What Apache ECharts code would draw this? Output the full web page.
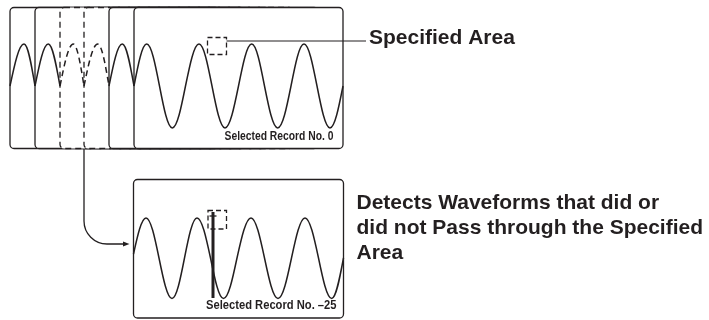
<!DOCTYPE html>
<html lang="en">
<head>
<meta charset="UTF-8">
<title>Specified Area</title>
<script src="https://cdn.jsdelivr.net/npm/echarts@6/dist/echarts.min.js"></script>
<style>
  html, body { margin: 0; padding: 0; background: #fff; }
  #chart { width: 709px; height: 320px; }
</style>
</head>
<body>
<div id="chart"></div>
<script>
// everything is in picture units: x 0..709, y 0..320 (y grows downwards)
var ink = '#231f20';

// record frames, back to front; the last one is the lower "selected" frame
var frameX0 = [10, 35, 60, 84, 109, 134, 133.5];
var frameX1 = [219, 244, 269, 293, 318, 343, 343.5];
var frameY0 = [7.5, 7.5, 7.5, 7.5, 7.5, 7.5, 179.5];
var frameY1 = [148.5, 148.5, 148.5, 148.5, 148.5, 148.5, 318];
var frameDash = [0, 0, 1, 1, 0, 0, 0];

// visible arch of each stacked record (peak position)
var archPeakX = [24, 48.3, 73.3, 97.7, 122.3];
var archMidY = 86, archPeakY = 44;

// waveform key points: crossing, extremum, crossing, extremum ...
var topWave = [[134, 86], [146.7, 44], [159.5, 86], [172.3, 128], [185.5, 86], [199, 44], [212, 86],
  [225, 128], [238.5, 86], [251.7, 44], [264.5, 86], [277.7, 128], [291, 86], [304, 44], [317, 86],
  [330, 128], [343, 86]];
var bottomWave = [[133.5, 254], [146, 218], [159, 258], [172, 298.5], [184.5, 258], [197, 218],
  [210.5, 258], [223.5, 298.5], [237, 258], [251, 218], [264.5, 258], [278, 298.5], [291.5, 258],
  [305, 218], [318.5, 258], [331.7, 298.5], [343.5, 258]];

// specified areas (x0, y0, x1, y1)
var areaBoxes = [[207.5, 37.5, 226.5, 54.5], [208, 210.5, 226.5, 229]];

// straight strokes: leader, glitch, glitch tick
var segFrom = [[226.5, 41], [213, 212], [209.5, 216]];
var segTo = [[366, 41], [213, 298], [216.5, 216]];
var segWidth = [1.2, 3, 1.3];

// connector from the dashed record to the lower frame
var connector = [[84, 149], [84, 244], [129.5, 244]];

var labelText = ['Specified Area', 'Detects Waveforms that did or', 'did not Pass through the Specified',
  'Area', 'Selected Record No. 0', 'Selected Record No. \u201325'];
var labelX = [369, 356.5, 356.5, 356.5, 333.5, 336.5];
var labelY = [38, 203, 228, 253, 136.5, 305.5];
var labelSize = [21, 21, 21, 21, 12, 13];
var labelNarrow = [0, 0, 0, 0, 1, 1];

function waveOf(i) {
  if (i < archPeakX.length) {
    return [[frameX0[i], archMidY], [archPeakX[i], archPeakY], [frameX0[i + 1], archMidY]];
  }
  return i === 5 ? topWave : bottomWave;
}

// sine-like cubic pieces between crossing and extremum points
function wavePath(pts) {
  var d = 'M' + pts[0][0] + ' ' + pts[0][1];
  for (var k = 1; k < pts.length; k++) {
    var a = pts[k - 1], b = pts[k];
    var fromCross = (k - 1) % 2 === 0;
    var c = fromCross ? a : b, e = fromCross ? b : a;
    var cc = [c[0] + (e[0] - c[0]) * 0.326, c[1] + (e[1] - c[1]) * 0.512];
    var ce = [e[0] + (c[0] - e[0]) * 0.362, e[1]];
    var c1 = fromCross ? cc : ce, c2 = fromCross ? ce : cc;
    d += ' C' + c1[0] + ' ' + c1[1] + ' ' + c2[0] + ' ' + c2[1] + ' ' + b[0] + ' ' + b[1];
  }
  return d;
}

function idx(arr) {
  return arr.map(function (v, i) { return [i]; });
}

var chart = echarts.init(document.getElementById('chart'));

var option = {
  animation: false,
  grid: { left: 0, right: 0, top: 0, bottom: 0 },
  xAxis: { type: 'value', min: 0, max: 709, show: false },
  yAxis: { type: 'value', min: 0, max: 320, inverse: true, show: false },
  series: [
    {
      name: 'frames',
      type: 'custom',
      data: idx(frameX0),
      renderItem: function (params, api) {
        var i = params.dataIndex;
        var p0 = api.coord([frameX0[i], frameY0[i]]);
        var p1 = api.coord([frameX1[i], frameY1[i]]);
        var pts = waveOf(i).map(function (p) { return api.coord(p); });
        return {
          type: 'group',
          children: [{
            type: 'rect',
            z2: i * 2,
            shape: { x: p0[0], y: p0[1], width: p1[0] - p0[0], height: p1[1] - p0[1], r: 4 },
            style: { fill: '#fff', stroke: ink, lineWidth: 1.3, lineDash: frameDash[i] ? [6, 4] : null }
          }, {
            type: 'path',
            z2: i * 2 + 1,
            shape: { pathData: wavePath(pts) },
            style: { fill: 'none', stroke: ink, lineWidth: 1.5, lineDash: frameDash[i] ? [6, 4] : null }
          }]
        };
      }
    },
    {
      name: 'areas',
      type: 'custom',
      z: 3,
      data: idx(areaBoxes),
      renderItem: function (params, api) {
        var b = areaBoxes[params.dataIndex];
        var p0 = api.coord([b[0], b[1]]);
        var p1 = api.coord([b[2], b[3]]);
        return {
          type: 'rect',
          shape: { x: p0[0], y: p0[1], width: p1[0] - p0[0], height: p1[1] - p0[1] },
          style: { fill: 'none', stroke: ink, lineWidth: 1.3, lineDash: [5, 3] }
        };
      }
    },
    {
      name: 'strokes',
      type: 'custom',
      z: 4,
      data: idx(segFrom),
      renderItem: function (params, api) {
        var i = params.dataIndex;
        var a = api.coord(segFrom[i]), b = api.coord(segTo[i]);
        return {
          type: 'line',
          shape: { x1: a[0], y1: a[1], x2: b[0], y2: b[1] },
          style: { stroke: ink, lineWidth: segWidth[i] }
        };
      }
    },
    {
      name: 'connector',
      type: 'custom',
      z: 4,
      data: [[0]],
      renderItem: function (params, api) {
        var s = api.coord(connector[0]), c = api.coord(connector[1]), t = api.coord(connector[2]);
        var r = 23, tip = 6.5;
        var d = 'M' + s[0] + ' ' + s[1] + ' L' + c[0] + ' ' + (c[1] - r) +
          ' C' + c[0] + ' ' + (c[1] - r * 0.45) + ' ' + (c[0] + r * 0.45) + ' ' + c[1] + ' ' + (c[0] + r) + ' ' + c[1] +
          ' L' + (t[0] - tip) + ' ' + t[1];
        return {
          type: 'group',
          children: [{
            type: 'path',
            shape: { pathData: d },
            style: { fill: 'none', stroke: ink, lineWidth: 1.3 }
          }, {
            type: 'polygon',
            shape: { points: [[t[0], t[1]], [t[0] - tip, t[1] - 2.6], [t[0] - tip, t[1] + 2.6]] },
            style: { fill: ink }
          }]
        };
      }
    },
    {
      name: 'labels',
      type: 'custom',
      z: 5,
      data: idx(labelText),
      renderItem: function (params, api) {
        var i = params.dataIndex;
        var p = api.coord([labelX[i], labelY[i]]);
        return {
          type: 'text',
          x: p[0],
          y: p[1],
          // the record captions are set in a condensed face
          scaleX: labelNarrow[i] ? 0.86 : 1,
          style: {
            text: labelText[i],
            fill: ink,
            align: labelNarrow[i] ? 'right' : 'left',
            verticalAlign: 'middle',
            font: 'bold ' + labelSize[i] + 'px "Liberation Sans", Arial, sans-serif'
          }
        };
      }
    }
  ]
};

chart.setOption(option);
</script>
</body>
</html>
